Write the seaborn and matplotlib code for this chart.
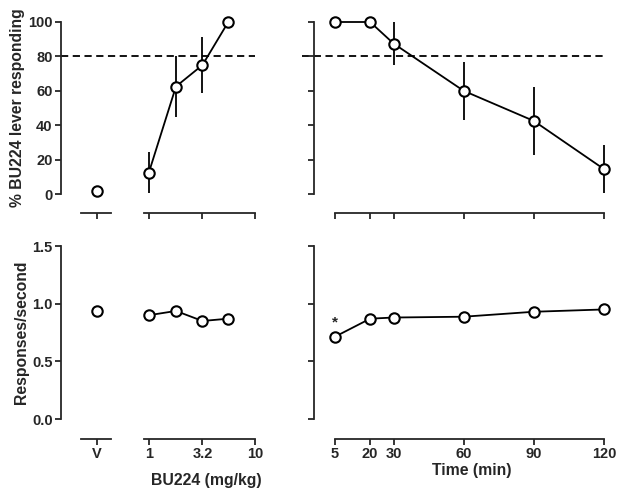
import numpy as np
import pandas as pd
import matplotlib
matplotlib.use("Agg")
import matplotlib.pyplot as plt
import seaborn as sns

sns.set_style("ticks")
plt.rcParams['font.family'] = ['Liberation Sans', 'DejaVu Sans']
plt.rcParams['font.weight'] = 'bold'

# vehicle
veh_pct, veh_pct_err = 1.5, 0.0
veh_rate, veh_rate_err = 0.94, 0.04

# dose-response (mg/kg)
doses = [1, 1.8, 3.2, 5.6]
dose_pct = [12.5, 62.5, 75, 100]
dose_pct_err = [12, 18, 16.5, 0]
dose_rate = [0.90, 0.937, 0.85, 0.87]
dose_rate_err = [0.03, 0.02, 0.02, 0.02]

# time course (min)
times = [5, 20, 30, 60, 90, 120]
time_pct = [100, 100, 87.5, 60, 42.5, 14.5]
time_pct_err = [0, 0, 12.5, 17, 20, 14]
time_rate = [0.714, 0.87, 0.88, 0.887, 0.93, 0.95]
time_rate_err = [0.02, 0.02, 0.02, 0.02, 0.02, 0.05]

dose_ticks = [1, 3.2, 10]
dose_ticklabels = ['1', '3.2', '10']
time_ticks = [5, 20, 30, 60, 90, 120]

fig = plt.figure(figsize=(6.24, 5), dpi=100)
W, H = 624, 500


def add_ax(x0, x1, ytop, ybot):
    return fig.add_axes([x0 / W, 1 - ybot / H, (x1 - x0) / W, (ybot - ytop) / H])


mk = dict(marker='o', color='black', markerfacecolor='white', markeredgecolor='black',
          markersize=7.5, markeredgewidth=1.5, linewidth=1.3, clip_on=False, zorder=3)
eb = dict(fmt='none', ecolor='black', elinewidth=1.3, capsize=0, clip_on=False, zorder=1)

rows = [
    (22, 213, (-11, 100), (0, 100), [0, 20, 40, 60, 80, 100], None,
     (veh_pct, veh_pct_err), (dose_pct, dose_pct_err), (time_pct, time_pct_err)),
    (246, 439, (-0.173, 1.5), (0, 1.5), [0.0, 0.5, 1.0, 1.5], '{:.1f}',
     (veh_rate, veh_rate_err), (dose_rate, dose_rate_err), (time_rate, time_rate_err)),
]

axes = []
for i, (ytop, ybot, ylim, ybounds, yticks, yfmt, veh, dose, tc) in enumerate(rows):
    ax_v = add_ax(61, 111, ytop, ybot)
    ax_d = add_ax(144, 255, ytop, ybot)
    ax_t = add_ax(314, 604, ytop, ybot)

    # vehicle
    ax_v.set_xlim(0, 1)
    ax_v.set_ylim(*ylim)
    if veh[1] > 0:
        ax_v.errorbar([0.72], [veh[0]], yerr=[veh[1]], **eb)
    sns.lineplot(x=[0.72], y=[veh[0]], ax=ax_v, **mk)
    sns.despine(ax=ax_v)
    ax_v.spines['bottom'].set_bounds(0.4, 1.0)
    ax_v.spines['left'].set_bounds(*ybounds)
    ax_v.set_xticks([0.72])
    ax_v.set_yticks(yticks)
    if yfmt:
        ax_v.set_yticklabels([yfmt.format(t) for t in yticks])

    # dose
    ax_d.set_xscale('log')
    ax_d.set_xlim(0.9, 10)
    ax_d.set_ylim(*ylim)
    ax_d.errorbar(doses, dose[0], yerr=dose[1], **eb)
    sns.lineplot(x=doses, y=dose[0], ax=ax_d, **mk)
    sns.despine(ax=ax_d, left=True)
    ax_d.set_yticks([])
    ax_d.set_xticks(dose_ticks)
    ax_d.xaxis.set_minor_locator(matplotlib.ticker.NullLocator())

    # time
    ax_t.set_xlim(-4, 120)
    ax_t.set_ylim(*ylim)
    ax_t.errorbar(times, tc[0], yerr=tc[1], **eb)
    sns.lineplot(x=times, y=tc[0], ax=ax_t, **mk)
    sns.despine(ax=ax_t)
    ax_t.spines['bottom'].set_bounds(5, 120)
    ax_t.spines['left'].set_bounds(*ybounds)
    ax_t.set_xticks(time_ticks)
    ax_t.set_yticks(yticks)
    ax_t.set_yticklabels([])

    for ax in (ax_v, ax_d, ax_t):
        for s in ax.spines.values():
            s.set_linewidth(1.3)
        ax.tick_params(width=1.3, length=4, labelsize=10.5, pad=2)
        ax.set_xlabel('')
        ax.set_ylabel('')
        ax.patch.set_alpha(0)

    if i == 0:
        ax_v.set_xticklabels([])
        ax_d.set_xticklabels([])
        ax_t.set_xticklabels([])
    else:
        ax_v.set_xticklabels(['V'])
        ax_d.set_xticklabels(dose_ticklabels)
        ax_t.set_xticklabels([str(t) for t in time_ticks])
    axes.append((ax_v, ax_d, ax_t))

# 80% criterion line
top_v, top_d, top_t = axes[0]
dash = dict(color='black', linewidth=1.3, linestyle=(0, (4, 2.5)), clip_on=False, zorder=0)
top_v.axhline(80, xmin=0, xmax=(255 - 61) / 50, **dash)
top_t.axhline(80, xmin=(302 - 314) / 290, xmax=(605 - 314) / 290, **dash)

# significance marker
axes[1][2].text(5, 0.84, '*', ha='center', va='center', fontsize=11)

fig.text(18 / W, 1 - 108 / H, '% BU224 lever responding', rotation=90,
         ha='center', va='center', fontsize=11.3, fontweight='bold')
fig.text(22 / W, 1 - 332 / H, 'Responses/second', rotation=90,
         ha='center', va='center', fontsize=11.3, fontweight='bold')
fig.text(206 / W, 1 - 480 / H, 'BU224 (mg/kg)', ha='center', va='center',
         fontsize=11.3, fontweight='bold')
fig.text(472 / W, 1 - 470 / H, 'Time (min)', ha='center', va='center',
         fontsize=11.3, fontweight='bold')

fig.savefig('out.png', dpi=100)
